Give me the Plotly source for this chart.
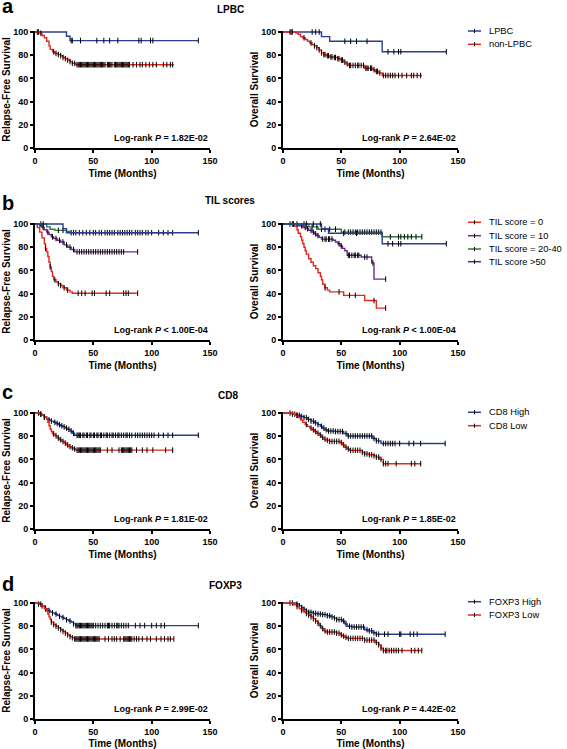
import plotly.graph_objects as go

# ======================= DATA =======================
panel_letters = ["a", "b", "c", "d"]
panel_titles = ["LPBC", "TIL scores", "CD8", "FOXP3"]
rfs_p = ["= 1.82E-02", "&lt; 1.00E-04", "= 1.81E-02", "= 2.99E-02"]
os_p = ["= 2.64E-02", "&lt; 1.00E-04", "= 1.85E-02", "= 4.42E-02"]
x_ticks = [0, 50, 100, 150]
y_ticks = [0, 20, 40, 60, 80, 100]

a_names = ["LPBC", "non-LPBC"]
b_names = ["TIL score = 0", "TIL score = 10", "TIL score = 20-40", "TIL score >50"]
c_names = ["CD8 High", "CD8 Low"]
d_names = ["FOXP3 High", "FOXP3 Low"]

# ---- a : LPBC, relapse-free survival
a_rfs_lpbc_t = [0, 27, 30]
a_rfs_lpbc_s = [100, 96.4, 92.6]
a_rfs_lpbc_end = 140
a_rfs_lpbc_c = [3, 31, 32, 39, 53, 59, 64, 71, 89, 91, 99, 101, 140]
a_rfs_non_t = [0, 4, 6, 8, 10, 12, 13, 15, 17, 20, 22, 24, 26, 28, 30, 32, 35]
a_rfs_non_s = [100, 99, 97, 95, 92, 88, 85, 83, 81.5, 80.5, 79.5, 78, 77, 75.8, 74.5, 73, 71.8]
a_rfs_non_end = 119
a_rfs_non_c = [2, 5, 16, 18, 20, 22, 24, 26, 28, 30, 32, 34, 36, 37, 38, 39, 40, 41, 42, 43, 44, 45,
               46, 47, 48, 49, 50, 51, 52, 53, 54, 55, 56, 57, 58, 59, 60, 62, 63, 64, 65, 66, 68,
               69, 70, 71, 72, 73, 74, 75, 76, 77, 78, 79, 80, 81, 84, 87, 90, 92, 95, 98, 101,
               104, 110, 113, 116, 118]
# ---- a : LPBC, overall survival
a_os_lpbc_t = [0, 33, 40, 85]
a_os_lpbc_s = [100, 96, 92, 83]
a_os_lpbc_end = 140
a_os_lpbc_c = [7, 25, 28, 31, 53, 58, 63, 72, 90, 95, 99, 101, 140]
a_os_non_t = [0, 11, 13, 15, 17, 19, 21, 23, 25, 27, 29, 31, 33, 35, 37, 40, 44, 47, 50, 52, 54,
              56, 70, 77, 79, 82, 85]
a_os_non_s = [100, 99, 98, 96, 95, 93.5, 92, 90.5, 89, 88, 86.5, 84.5, 82, 80.5, 79.5, 78.5, 78,
              77, 75.8, 74, 72.5, 71.2, 68.8, 67.5, 66, 64.8, 62.5]
a_os_non_end = 119
a_os_non_c = [6, 8, 18, 24, 27, 29, 31, 33, 35, 36, 38, 39, 41, 42, 44, 45, 47, 48, 50, 51, 53,
              55, 57, 58, 60, 62, 64, 65, 67, 69, 71, 72, 73, 75, 76, 78, 80, 81, 83, 86, 88, 90,
              92, 94, 96, 99, 102, 106, 110, 112, 115, 118]

# ---- b : TIL scores, relapse-free survival
b_rfs_0_t = [0, 2, 4, 6, 8, 9, 10, 11, 12, 13, 14, 15, 16, 18, 20, 22, 24, 27, 30, 32]
b_rfs_0_s = [100, 97, 93, 88, 83, 79, 76, 72, 67, 63, 59, 55, 52, 50, 48.5, 47, 45, 43, 41.5, 40.3]
b_rfs_0_end = 88
b_rfs_0_c = [9, 13, 17, 20, 22, 25, 28, 37, 40, 43, 49, 51, 61, 64, 76, 78, 80, 88]
b_rfs_10_t = [0, 4, 6, 8, 10, 12, 14, 16, 19, 22, 25, 28, 31, 34]
b_rfs_10_s = [100, 98.5, 97, 95, 93, 91, 89, 87.5, 86, 84.5, 82, 80, 78, 76]
b_rfs_10_end = 88
b_rfs_10_c = [7, 11, 15, 18, 21, 24, 27, 30, 33, 36, 38, 40, 42, 44, 46, 48, 50, 52, 54, 56, 58,
              60, 62, 64, 66, 68, 70, 72, 74, 76, 88]
b_rfs_2040_t = [0, 10, 13, 17, 27, 30]
b_rfs_2040_s = [100, 97.5, 95.5, 94.5, 93.5, 92.5]
b_rfs_2040_end = 118
b_rfs_2040_c = [5, 20, 24, 31, 33, 35, 38, 41, 44, 47, 50, 52, 55, 57, 60, 62, 64, 66, 68, 71, 73,
                75, 77, 79, 81, 83, 86, 88, 90, 92, 95, 97, 100, 106, 110, 114, 118]
b_rfs_50_t = [0, 24, 27]
b_rfs_50_s = [100, 96, 92.5]
b_rfs_50_end = 140
b_rfs_50_c = [7, 140]
# ---- b : TIL scores, overall survival
b_os_0_t = [0, 10, 12, 13, 15, 16, 17, 18, 19, 20, 22, 24, 26, 28, 30, 32, 33, 34, 36, 38, 40,
            52, 70, 80]
b_os_0_s = [100, 98, 95, 92, 89, 86, 83, 80, 77, 74, 70, 67, 64, 61.5, 58, 55, 52, 48, 45, 43,
            41.5, 38.5, 34, 27.5]
b_os_0_end = 88
b_os_0_c = [36, 48, 57, 62, 78, 88]
b_os_10_t = [0, 13, 17, 20, 22, 25, 27, 29, 31, 33, 43, 45, 47, 49, 51, 53, 55, 67, 76, 78]
b_os_10_s = [100, 98.5, 97, 96, 94.5, 93, 91.5, 90, 88.5, 87, 86, 84.5, 83, 81, 79, 77, 73, 71.5,
             66.5, 52.5]
b_os_10_end = 88
b_os_10_c = [8, 12, 16, 19, 21, 24, 26, 28, 30, 34, 36, 37, 39, 40, 42, 48, 50, 56, 57, 59, 61,
             62, 64, 65, 70, 72, 77, 88]
b_os_2040_t = [0, 22, 30, 50, 85]
b_os_2040_s = [100, 97.5, 95.5, 93, 89]
b_os_2040_end = 119
b_os_2040_c = [6, 9, 18, 25, 29, 33, 36, 40, 45, 53, 56, 58, 60, 62, 64, 66, 68, 70, 72, 74, 76,
               78, 80, 82, 84, 92, 99, 101, 104, 107, 110, 114, 119]
b_os_50_t = [0, 33, 39, 85]
b_os_50_s = [100, 96, 92, 83]
b_os_50_end = 140
b_os_50_c = [20, 26, 32, 52, 63, 90, 94, 99, 101, 140]

# ---- c : CD8, relapse-free survival
c_rfs_high_t = [0, 4, 6, 8, 10, 12, 14, 16, 18, 20, 22, 24, 26, 28, 30, 32, 34]
c_rfs_high_s = [100, 99, 98, 96.5, 95, 94, 93, 92, 91, 90, 89, 88, 87, 86, 84.5, 82.5, 80.8]
c_rfs_high_end = 140
c_rfs_high_c = [3, 5, 8, 12, 14, 17, 19, 21, 23, 25, 27, 29, 31, 33, 36, 37, 38, 39, 41, 42, 44,
                45, 47, 48, 50, 51, 53, 54, 56, 57, 59, 61, 62, 64, 66, 67, 69, 71, 72, 74, 76, 78,
                79, 81, 83, 86, 88, 90, 92, 94, 96, 98, 100, 102, 106, 110, 114, 118, 140]
c_rfs_low_t = [0, 4, 6, 8, 10, 11, 12, 13, 14, 15, 17, 19, 21, 23, 25, 27, 29, 31, 33, 35]
c_rfs_low_s = [100, 99, 98, 96.5, 94.5, 92, 89, 86, 84, 82, 80.5, 78.5, 77, 75.5, 74, 72.5, 71,
               70, 69, 68]
c_rfs_low_end = 118.5
c_rfs_low_c = [5, 8, 16, 18, 20, 22, 24, 26, 28, 30, 32, 34, 36, 37, 38, 39, 40, 41, 42, 43, 44,
               45, 46, 47, 48, 49, 50, 51, 52, 53, 54, 55, 56, 62, 66, 72, 74, 75, 76, 77, 78, 79,
               80, 81, 82, 83, 87, 92, 96, 101, 112, 118]
# ---- c : CD8, overall survival
c_os_high_t = [0, 8, 12, 15, 18, 21, 24, 27, 30, 32, 34, 36, 38, 45, 52, 55, 77, 80, 84]
c_os_high_s = [100, 99, 98, 97, 96, 94.5, 93, 91.5, 90, 88.5, 87, 85.5, 84.5, 84, 82.3, 80.2, 78,
               76, 73.7]
c_os_high_end = 139
c_os_high_c = [6, 8, 10, 12, 14, 16, 18, 20, 22, 24, 26, 28, 30, 33, 35, 37, 39, 41, 43, 45, 47,
               49, 51, 54, 56, 58, 60, 62, 64, 66, 68, 70, 72, 74, 76, 78, 80, 82, 86, 88, 90, 92,
               94, 96, 100, 108, 112, 118, 139]
c_os_low_t = [0, 10, 13, 15, 17, 19, 21, 23, 25, 27, 29, 31, 33, 35, 37, 40, 49, 51, 53, 55, 57,
              68, 70, 74, 78, 80, 83, 86]
c_os_low_s = [100, 98, 96, 94, 92, 90, 88.5, 87, 85.5, 84, 82.5, 81, 79, 77.5, 76.5, 75.5, 74.5,
              72.5, 70.5, 69, 67.8, 66, 64.8, 64, 63, 62, 60, 56.3]
c_os_low_end = 118.5
c_os_low_c = [12, 20, 24, 26, 28, 30, 32, 34, 36, 38, 40, 42, 44, 46, 48, 50, 52, 54, 56, 58, 60,
              62, 64, 66, 68, 70, 72, 74, 76, 78, 80, 82, 84, 86, 88, 90, 97, 110, 113, 118]

# ---- d : FOXP3, relapse-free survival
d_rfs_high_t = [0, 3, 6, 9, 11, 13, 15, 17, 19, 21, 23, 25, 27, 29, 31, 33, 35]
d_rfs_high_s = [100, 99, 97.5, 95, 93.5, 92.3, 91.5, 90.5, 89.5, 88.5, 87.5, 86.5, 85.5, 84.5,
                83.5, 82, 80.5]
d_rfs_high_end = 140
d_rfs_high_c = [3, 6, 9, 12, 15, 18, 21, 24, 27, 30, 33, 35, 36, 37, 38, 39, 40, 41, 42, 43, 44,
                45, 46, 47, 48, 49, 50, 52, 54, 56, 58, 60, 62, 63, 64, 66, 68, 70, 71, 72, 74, 76,
                78, 80, 86, 90, 94, 100, 104, 108, 111, 140]
d_rfs_low_t = [0, 4, 6, 8, 10, 11, 12, 13, 14, 16, 18, 20, 22, 24, 26, 28, 30, 32, 34]
d_rfs_low_s = [100, 99, 97, 95, 93, 90.5, 88, 86, 83.5, 81.5, 80, 78.5, 77, 75.5, 74, 72.5, 71,
               70, 69]
d_rfs_low_end = 119
d_rfs_low_c = [5, 14, 16, 18, 20, 22, 24, 26, 28, 30, 32, 34, 35, 36, 37, 38, 39, 40, 41, 42, 43,
               44, 45, 46, 47, 48, 49, 50, 51, 52, 53, 54, 55, 60, 63, 66, 68, 70, 73, 76, 77, 78,
               79, 80, 81, 82, 83, 85, 87, 89, 92, 96, 99, 104, 108, 111, 114, 116, 119]
# ---- d : FOXP3, overall survival
d_os_high_t = [0, 12, 14, 16, 18, 20, 22, 26, 30, 34, 38, 41, 44, 46, 51, 53, 55, 59, 70, 73, 77,
               80]
d_os_high_s = [100, 99, 97.5, 96, 94.5, 93, 92, 91, 90.5, 90, 89, 88, 87, 85.7, 84.5, 82, 80,
               79.3, 77, 76, 74.3, 73.1]
d_os_high_end = 139
d_os_high_c = [6, 8, 12, 14, 16, 18, 20, 22, 24, 26, 28, 30, 32, 34, 36, 38, 40, 42, 44, 46, 48,
               50, 52, 54, 57, 59, 61, 63, 65, 67, 69, 72, 74, 76, 78, 80, 82, 87, 90, 100, 101,
               109, 112, 115, 139]
d_os_low_t = [0, 9, 12, 14, 16, 18, 20, 22, 24, 26, 28, 30, 31, 33, 35, 37, 46, 49, 51, 53, 55,
              70, 79, 82, 84, 86]
d_os_low_s = [100, 98.5, 97, 95, 93.5, 92, 91, 89.5, 88, 86.5, 84.5, 82.5, 80.5, 78, 76, 75, 74,
              72.5, 71.5, 70.5, 69.5, 68, 66, 64, 61, 59]
d_os_low_end = 119
d_os_low_c = [12, 16, 20, 22, 24, 26, 28, 30, 32, 34, 36, 38, 40, 42, 44, 46, 48, 50, 52, 54, 56,
              58, 60, 62, 64, 66, 68, 70, 72, 74, 76, 78, 80, 82, 84, 86, 88, 89, 91, 93, 95, 97,
              99, 102, 110, 113, 116, 119]

# ======================= STYLE / LAYOUT =======================
W, H = 567, 749
FONT = "Liberation Sans, Arial, Helvetica, sans-serif"
BLUE = "#283F8F"
RED = "#E3281D"
GREEN = "#2F7A3B"
PURPLE = "#6A2D85"

col_x = [(35, 210), (283, 458)]          # pixel extents of plot areas (x = 0 .. 150)
row_y = [(32, 148), (224, 340), (413, 529), (603, 719)]   # (y=100, y=0) pixel rows
YMAX = 101


def px(x):
    return x / W


def py(y):
    return 1 - y / H


def surv_at(t, s, x):
    v = s[0]
    for ti, si in zip(t, s):
        if ti <= x:
            v = si
    return v


panels = [
    ([(a_rfs_lpbc_t, a_rfs_lpbc_s, a_rfs_lpbc_end, a_rfs_lpbc_c),
      (a_rfs_non_t, a_rfs_non_s, a_rfs_non_end, a_rfs_non_c)],
     [(a_os_lpbc_t, a_os_lpbc_s, a_os_lpbc_end, a_os_lpbc_c),
      (a_os_non_t, a_os_non_s, a_os_non_end, a_os_non_c)],
     a_names, [BLUE, RED]),
    ([(b_rfs_0_t, b_rfs_0_s, b_rfs_0_end, b_rfs_0_c),
      (b_rfs_10_t, b_rfs_10_s, b_rfs_10_end, b_rfs_10_c),
      (b_rfs_2040_t, b_rfs_2040_s, b_rfs_2040_end, b_rfs_2040_c),
      (b_rfs_50_t, b_rfs_50_s, b_rfs_50_end, b_rfs_50_c)],
     [(b_os_0_t, b_os_0_s, b_os_0_end, b_os_0_c),
      (b_os_10_t, b_os_10_s, b_os_10_end, b_os_10_c),
      (b_os_2040_t, b_os_2040_s, b_os_2040_end, b_os_2040_c),
      (b_os_50_t, b_os_50_s, b_os_50_end, b_os_50_c)],
     b_names, [RED, PURPLE, GREEN, BLUE]),
    ([(c_rfs_high_t, c_rfs_high_s, c_rfs_high_end, c_rfs_high_c),
      (c_rfs_low_t, c_rfs_low_s, c_rfs_low_end, c_rfs_low_c)],
     [(c_os_high_t, c_os_high_s, c_os_high_end, c_os_high_c),
      (c_os_low_t, c_os_low_s, c_os_low_end, c_os_low_c)],
     c_names, [BLUE, RED]),
    ([(d_rfs_high_t, d_rfs_high_s, d_rfs_high_end, d_rfs_high_c),
      (d_rfs_low_t, d_rfs_low_s, d_rfs_low_end, d_rfs_low_c)],
     [(d_os_high_t, d_os_high_s, d_os_high_end, d_os_high_c),
      (d_os_low_t, d_os_low_s, d_os_low_end, d_os_low_c)],
     d_names, [BLUE, RED]),
]

legend_y = [[31, 44.3], [222.3, 235.7, 249, 261.7], [412.3, 425.7], [601.7, 615]]
letter_y = [6.5, 203, 391.5, 584]
title_xy = [(230, 9.5), (230, 200.5), (228, 395.5), (225, 585.5)]

fig = go.Figure()
layout = dict(
    width=W, height=H, margin=dict(l=0, r=0, t=0, b=0),
    paper_bgcolor="white", plot_bgcolor="white", showlegend=False,
    font=dict(family=FONT, color="black"),
)
annotations = []
shapes = []

tickfont = dict(family=FONT, size=9, color="black", weight="bold")
titlefont = dict(family=FONT, size=10, color="black", weight="bold")

for r, (rfs, os_, names, colors) in enumerate(panels):
    for c, curves in enumerate([rfs, os_]):
        k = 2 * r + c + 1
        xa = "x" if k == 1 else f"x{k}"
        ya = "y" if k == 1 else f"y{k}"
        xkey = "xaxis" if k == 1 else f"xaxis{k}"
        ykey = "yaxis" if k == 1 else f"yaxis{k}"
        top, bot = row_y[r]
        ytop = bot - (bot - top) * YMAX / 100
        layout[xkey] = dict(
            domain=[px(col_x[c][0]), px(col_x[c][1])], anchor=ya, range=[0, 150],
            tickvals=x_ticks, ticks="outside", ticklen=3, tickwidth=1.5, tickcolor="black",
            showline=True, linewidth=2, linecolor="black", showgrid=False, zeroline=False,
            tickfont=tickfont, fixedrange=True, automargin=False,
            title=dict(text="Time (Months)", font=titlefont, standoff=5),
        )
        layout[ykey] = dict(
            domain=[py(bot), py(ytop)], anchor=xa, range=[0, YMAX],
            tickvals=y_ticks, ticks="outside", ticklen=3, tickwidth=1.5, tickcolor="black",
            showline=True, linewidth=2, linecolor="black", showgrid=False, zeroline=False,
            tickfont=tickfont, fixedrange=True, automargin=False,
            title=dict(text="Relapse-Free Survival" if c == 0 else "Overall Survival",
                       font=titlefont, standoff=1),
        )
        for (t, s, end, cens), name, col in zip(curves, names, colors):
            fig.add_trace(go.Scatter(
                x=list(t) + [end], y=list(s) + [s[-1]], mode="lines", name=name,
                line=dict(color=col, width=1.4, shape="hv"), xaxis=xa, yaxis=ya,
                hoverinfo="skip",
            ))
            fig.add_trace(go.Scatter(
                x=cens, y=[surv_at(t, s, v) for v in cens], mode="markers", name=name,
                marker=dict(symbol="line-ns", size=4, line=dict(width=1, color="black")),
                xaxis=xa, yaxis=ya, cliponaxis=False, hoverinfo="skip",
            ))
        ptxt = rfs_p[r] if c == 0 else os_p[r]
        annotations.append(dict(
            text=f"<b>Log-rank <i>P</i> {ptxt}</b>", xref=xa, yref=ya, x=150, y=8.6,
            xanchor="right", yanchor="middle", showarrow=False,
            font=dict(family=FONT, size=9, color="black"),
        ))

    annotations.append(dict(
        text=f"<b>{panel_letters[r]}</b>", xref="paper", yref="paper", x=px(0), y=py(letter_y[r]),
        xanchor="left", yanchor="middle", showarrow=False,
        font=dict(family=FONT, size=20, color="black"),
    ))
    annotations.append(dict(
        text=f"<b>{panel_titles[r]}</b>", xref="paper", yref="paper",
        x=px(title_xy[r][0]), y=py(title_xy[r][1]),
        xanchor="center", yanchor="middle", showarrow=False,
        font=dict(family=FONT, size=10, color="black"),
    ))
    for name, col, ly in zip(names, colors, legend_y[r]):
        shapes.append(dict(type="line", xref="paper", yref="paper",
                           x0=px(468), x1=px(481), y0=py(ly), y1=py(ly),
                           line=dict(color=col, width=1.5)))
        shapes.append(dict(type="line", xref="paper", yref="paper",
                           x0=px(474.5), x1=px(474.5), y0=py(ly - 2), y1=py(ly + 2),
                           line=dict(color="black", width=1)))
        annotations.append(dict(
            text=name, xref="paper", yref="paper", x=px(487), y=py(ly),
            xanchor="left", yanchor="middle", showarrow=False,
            font=dict(family=FONT, size=9.3, color="black"),
        ))

layout["annotations"] = annotations
layout["shapes"] = shapes
fig.update_layout(**layout)
fig.write_html("out.html", config={"displayModeBar": False},
               post_script="document.body.style.margin='0';")
